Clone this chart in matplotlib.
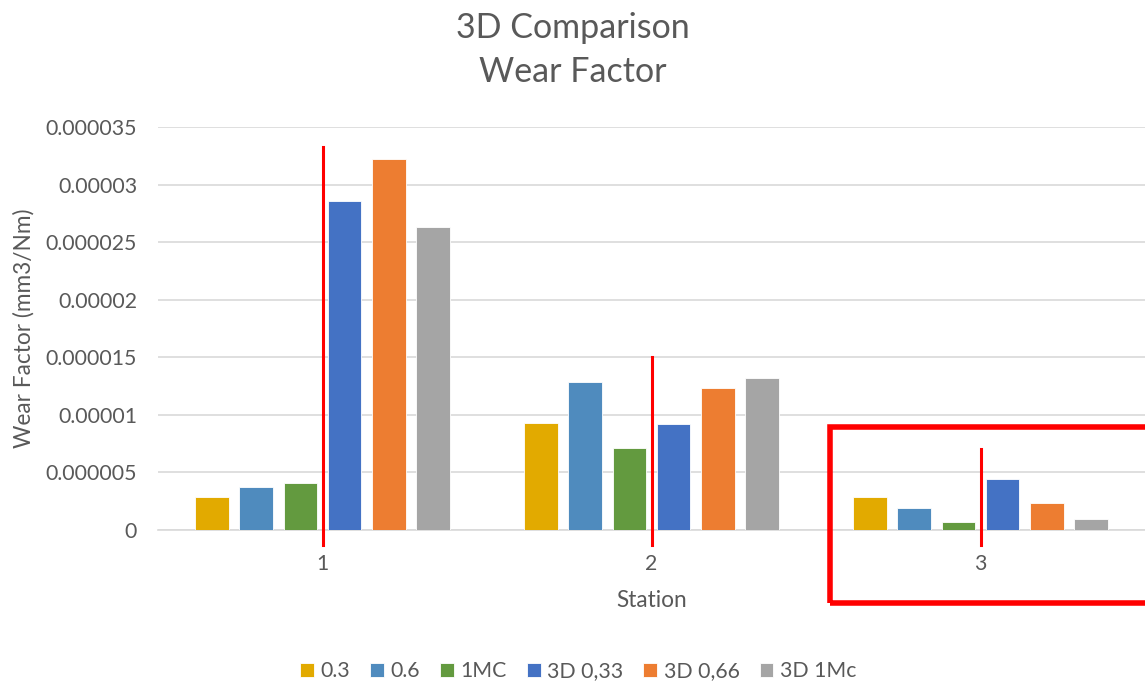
import matplotlib
matplotlib.use('Agg')
import matplotlib.pyplot as plt
import matplotlib.patches as patches
import numpy as np

plt.rcParams['font.family'] = ['Lato', 'DejaVu Sans']

# wear factor per station, one list per sample
stations = ['1', '2', '3']
series_names = ['0.3', '0.6', '1MC', '3D 0,33', '3D 0,66', '3D 1Mc']
wf_03 = [2.89e-6, 9.27e-6, 2.87e-6]
wf_06 = [3.71e-6, 12.86e-6, 1.88e-6]
wf_1mc = [4.08e-6, 7.10e-6, 0.67e-6]
wf_3d_033 = [28.6e-6, 9.20e-6, 4.40e-6]
wf_3d_066 = [32.2e-6, 12.3e-6, 2.37e-6]
wf_3d_1mc = [26.35e-6, 13.23e-6, 0.98e-6]
colors = ['#E2AA00', '#4F8BBE', '#639A3F', '#4472C4', '#ED7D31', '#A5A5A5']

yticks = [0, 0.000005, 0.00001, 0.000015, 0.00002, 0.000025, 0.00003, 0.000035]
ytick_labels = ['0', '0.000005', '0.00001', '0.000015', '0.00002',
                '0.000025', '0.00003', '0.000035']

# red marker lines (top of each line, per station) and the highlight box
marker_tops = [33.3e-6, 15.0e-6, 7.0e-6]
marker_bottom = -1.3e-6

grey = '#595959'
grid = '#D9D9D9'

fig = plt.figure(figsize=(11.45, 6.82), dpi=100)
ax = fig.add_axes([0.138, 0.2229, 0.862, 0.5909])

data = [wf_03, wf_06, wf_1mc, wf_3d_033, wf_3d_066, wf_3d_1mc]
x = np.arange(len(stations))
step = 0.134
width = 0.103
for i, (vals, name, c) in enumerate(zip(data, series_names, colors)):
    ax.bar(x + (i - 2.5) * step, vals, width, color=c, label=name,
           edgecolor='white', linewidth=0.6, zorder=3)

ax.set_xlim(-0.5, 2.5)
ax.set_ylim(0, 0.000035)
ax.set_yticks(yticks)
ax.set_yticklabels(ytick_labels)
ax.set_xticks(x)
ax.set_xticklabels(stations)
ax.tick_params(axis='y', length=0, pad=15, labelsize=15.3, labelcolor=grey)
ax.tick_params(axis='x', length=0, pad=17, labelsize=15.3, labelcolor=grey)
ax.yaxis.grid(True, color=grid, linewidth=1.2, zorder=0)
for s in ['top', 'right', 'left']:
    ax.spines[s].set_visible(False)
ax.spines['bottom'].set_color(grid)
ax.spines['bottom'].set_linewidth(1.2)

ax.set_ylabel('Wear Factor (mm3/Nm)', fontsize=16.3, color=grey, labelpad=8)
ax.set_xlabel('Station', fontsize=16.3, color=grey, labelpad=12)
fig.text(0.5, 0.982, '3D Comparison\nWear Factor', ha='center', va='top',
         fontsize=24.5, color=grey, linespacing=1.45)

for k, top in zip(x, marker_tops):
    ax.plot([k, k], [marker_bottom, top], color='#FF0000', linewidth=2.2,
            clip_on=False, zorder=5)

box = patches.Rectangle((830 / 1145, 1 - 603 / 682), 0.4, 176 / 682,
                        transform=fig.transFigure, fill=False,
                        edgecolor='#FF0000', linewidth=4, zorder=6)
fig.patches.append(box)

fig.legend(loc='center', bbox_to_anchor=(0.505, 0.016), ncol=6, frameon=False,
           fontsize=15.3, labelcolor=grey, handlelength=0.65, handleheight=0.65,
           handletextpad=0.3, columnspacing=0.95)

fig.savefig('out.png', dpi=100)
